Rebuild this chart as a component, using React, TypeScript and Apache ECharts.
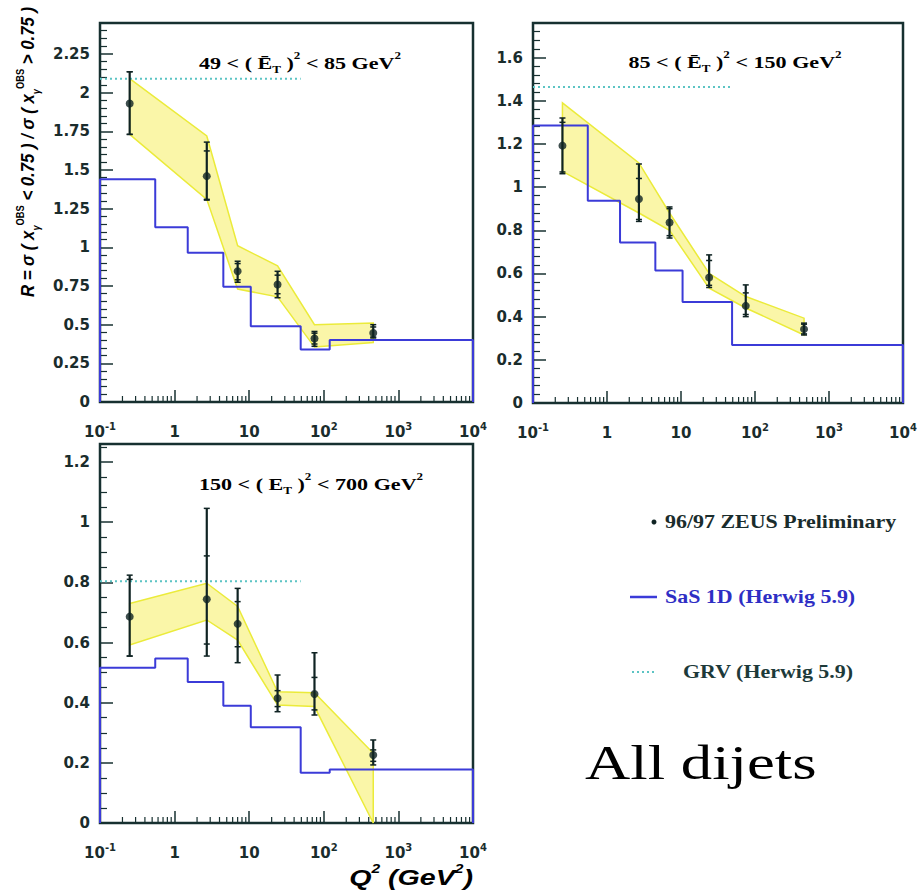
import React, { useEffect, useRef } from "react";
import * as echarts from "echarts";

// ---------- data ----------
const binEdges = [0.1, 0.55, 1.5, 4.5, 10.5, 49, 120, 10000];
const pointQ2 = [0.25, 2.7, 7, 24, 75, 460];
const grvEnd = 49;

// Panel 1: 49 < (E_T)^2 < 85 GeV^2
const p1Ratio = [1.93, 1.46, 0.845, 0.76, 0.41, 0.446];
const p1TotLo = [1.73, 1.305, 0.774, 0.674, 0.36, 0.414];
const p1TotHi = [2.135, 1.68, 0.91, 0.845, 0.456, 0.5];
const p1StatLo = [1.73, 1.31, 0.79, 0.7, 0.375, 0.42];
const p1StatHi = [2.135, 1.623, 0.895, 0.82, 0.445, 0.485];
const p1BandLo = [1.73, 1.31, 0.73, 0.68, 0.355, 0.385];
const p1BandHi = [2.09, 1.72, 1.01, 0.88, 0.5, 0.51];
const p1SaS = [1.44, 1.13, 0.965, 0.745, 0.49, 0.34, 0.4];
const p1Grv = 2.09;

// Panel 2: 85 < (E_T)^2 < 150 GeV^2
const p2Ratio = [1.192, 0.945, 0.836, 0.581, 0.45, 0.342];
const p2TotLo = [1.062, 0.841, 0.764, 0.535, 0.4, 0.315];
const p2TotHi = [1.32, 1.107, 0.908, 0.686, 0.547, 0.37];
const p2StatLo = [1.07, 0.85, 0.775, 0.545, 0.41, 0.32];
const p2StatHi = [1.3, 1.04, 0.9, 0.66, 0.51, 0.365];
const p2BandLo = [1.073, 0.88, 0.8, 0.532, 0.44, 0.315];
const p2BandHi = [1.39, 1.112, 0.88, 0.6, 0.493, 0.393];
const p2SaS = [1.285, 0.937, 0.743, 0.614, 0.468, 0.269, 0.269];
const p2Grv = 1.464;

// Panel 3: 150 < (E_T)^2 < 700 GeV^2
const p3Ratio = [0.686, 0.744, 0.662, 0.415, 0.429, 0.226];
const p3TotLo = [0.555, 0.555, 0.533, 0.37, 0.359, 0.193];
const p3TotHi = [0.824, 1.046, 0.78, 0.492, 0.566, 0.276];
const p3StatLo = [0.555, 0.595, 0.586, 0.387, 0.376, 0.205];
const p3StatHi = [0.81, 0.888, 0.736, 0.44, 0.484, 0.243];
const p3BandLo = [0.592, 0.675, 0.608, 0.392, 0.387, 0.0];
const p3BandHi = [0.73, 0.797, 0.72, 0.436, 0.433, 0.232];
const p3SaS = [0.516, 0.547, 0.469, 0.39, 0.318, 0.167, 0.178];
const p3Grv = 0.804;

const yMaxes = [2.45, 1.76, 1.26];
const yIntervals = [0.25, 0.2, 0.2];
const yMinorSplits = [5, 5, 4];

const panelTitles = [
  "{t|49 < ( }{t|Ē}{sub|T}{t| )}{sup|2}{t| < 85 GeV}{sup|2}",
  "{t|85 < ( }{t|Ē}{sub|T}{t| )}{sup|2}{t| < 150 GeV}{sup|2}",
  "{t|150 < ( E}{sub|T}{t| )}{sup|2}{t| < 700 GeV}{sup|2}",
];

const legendLabels = ["96/97 ZEUS Preliminary", "SaS 1D (Herwig 5.9)", "GRV (Herwig 5.9)"];

// ---------- styles ----------
const FRAME = "#173030";
const BLUE = "#3b3bd8";
const GRV_COLOR = "#5cc4c4";
const BAND_FILL = "rgba(246, 240, 110, 0.6)";
const BAND_EDGE = "#ebeb3a";
const POINT = "#0f2323";
const LABEL = "#1a2c2c";

const grids = [
  { left: 100, top: 23, width: 373, height: 379 },
  { left: 533, top: 23, width: 370, height: 380 },
  { left: 100, top: 444, width: 373, height: 379 },
];

const titlePos = [
  [300, 63],
  [735, 62],
  [311, 484],
];

const panels = [
  { ratio: p1Ratio, totLo: p1TotLo, totHi: p1TotHi, statLo: p1StatLo, statHi: p1StatHi, bandLo: p1BandLo, bandHi: p1BandHi, sas: p1SaS, grv: p1Grv },
  { ratio: p2Ratio, totLo: p2TotLo, totHi: p2TotHi, statLo: p2StatLo, statHi: p2StatHi, bandLo: p2BandLo, bandHi: p2BandHi, sas: p2SaS, grv: p2Grv },
  { ratio: p3Ratio, totLo: p3TotLo, totHi: p3TotHi, statLo: p3StatLo, statHi: p3StatHi, bandLo: p3BandLo, bandHi: p3BandHi, sas: p3SaS, grv: p3Grv },
];

function stepData(vals: number[]) {
  const d: number[][] = [[binEdges[0], 0]];
  vals.forEach((v, k) => {
    d.push([binEdges[k], v]);
    d.push([binEdges[k + 1], v]);
  });
  d.push([binEdges[binEdges.length - 1], 0]);
  return d;
}

// log-axis minor tick positions (axis decoration)
const minorTicks: number[] = [];
for (let e = -1; e < 4; e++) {
  for (let m = 2; m <= 9; m++) minorTicks.push(m * Math.pow(10, e));
}

const tickRich = {
  b: { fontFamily: "DejaVu Sans", fontWeight: "bold", fontSize: 15, color: LABEL, lineHeight: 22 },
  s: { fontFamily: "DejaVu Sans", fontWeight: "bold", fontSize: 10, color: LABEL, lineHeight: 10, verticalAlign: "top" },
};

function buildOption() {
  const xAxis: any[] = [];
  const yAxis: any[] = [];
  const series: any[] = [];
  const graphic: any[] = [];

  grids.forEach((g, i) => {
    xAxis.push({
      type: "log",
      logBase: 10,
      gridIndex: i,
      min: 0.1,
      max: 10000,
      splitNumber: 5,
      axisLine: { show: false },
      splitLine: { show: false },
      axisTick: { show: true, inside: true, length: 12, lineStyle: { color: FRAME, width: 1.5 } },
      axisLabel: {
        margin: 19,
        formatter: (v: number) => {
          const e = Math.round(Math.log10(v));
          if (e === 0) return "{b|1}";
          if (e === 1) return "{b|10}";
          return "{b|10}{s|" + e + "}";
        },
        rich: tickRich,
      },
    });
    yAxis.push({
      type: "value",
      gridIndex: i,
      min: 0,
      max: yMaxes[i],
      interval: yIntervals[i],
      axisLine: { show: false },
      splitLine: { show: false },
      axisTick: { show: true, inside: true, length: 13, lineStyle: { color: FRAME, width: 1.5 } },
      minorTick: { show: true, splitNumber: yMinorSplits[i], length: 7, lineStyle: { color: FRAME, width: 1.2 } },
      axisLabel: {
        showMaxLabel: false,
        margin: 10,
        fontFamily: "DejaVu Sans",
        fontWeight: "bold",
        fontSize: 15,
        color: LABEL,
        formatter: (v: number) => String(Math.round(v * 100) / 100),
      },
    });

    const p = panels[i];
    const n = pointQ2.length;

    // uncertainty band
    series.push({
      type: "custom",
      xAxisIndex: i,
      yAxisIndex: i,
      z: 1,
      silent: true,
      data: [[pointQ2[0], p.bandLo[0]]],
      renderItem: (_params: any, api: any) => {
        const pts: number[][] = [];
        for (let k = 0; k < n; k++) pts.push(api.coord([pointQ2[k], p.bandHi[k]]));
        for (let k = n - 1; k >= 0; k--) pts.push(api.coord([pointQ2[k], p.bandLo[k]]));
        return {
          type: "polygon",
          shape: { points: pts },
          style: { fill: BAND_FILL, stroke: BAND_EDGE, lineWidth: 1.5 },
        };
      },
    });

    // SaS 1D histogram
    series.push({
      type: "line",
      xAxisIndex: i,
      yAxisIndex: i,
      z: 3,
      data: stepData(p.sas),
      showSymbol: false,
      lineStyle: { color: BLUE, width: 2 },
    });

    // GRV dotted line
    series.push({
      type: "line",
      xAxisIndex: i,
      yAxisIndex: i,
      z: 3,
      data: [
        [binEdges[0], p.grv],
        [grvEnd, p.grv],
      ],
      showSymbol: false,
      lineStyle: { color: GRV_COLOR, width: 2, type: [2, 3] },
    });

    // error bars
    series.push({
      type: "custom",
      xAxisIndex: i,
      yAxisIndex: i,
      z: 5,
      data: pointQ2.map((q, k) => [q, p.ratio[k], p.totLo[k], p.totHi[k], p.statLo[k], p.statHi[k]]),
      renderItem: (_params: any, api: any) => {
        const x = api.value(0);
        const lo = api.coord([x, api.value(2)]);
        const hi = api.coord([x, api.value(3)]);
        const slo = api.coord([x, api.value(4)]);
        const shi = api.coord([x, api.value(5)]);
        const st = { stroke: POINT, lineWidth: 2.2 };
        const cap = (pt: number[], w: number) => ({
          type: "line",
          shape: { x1: pt[0] - w, y1: pt[1], x2: pt[0] + w, y2: pt[1] },
          style: { stroke: POINT, lineWidth: 1.5 },
        });
        return {
          type: "group",
          children: [
            { type: "line", shape: { x1: lo[0], y1: lo[1], x2: hi[0], y2: hi[1] }, style: st },
            cap(lo, 3),
            cap(hi, 3),
            cap(slo, 3),
            cap(shi, 3),
          ],
        };
      },
    });

    // data points
    series.push({
      type: "scatter",
      xAxisIndex: i,
      yAxisIndex: i,
      z: 6,
      symbol: "circle",
      symbolSize: 8,
      itemStyle: { color: POINT },
      data: pointQ2.map((q, k) => [q, p.ratio[k]]),
    });

    // log minor ticks on x axis
    series.push({
      type: "custom",
      xAxisIndex: i,
      yAxisIndex: i,
      z: 4,
      silent: true,
      data: minorTicks.map((q) => [q, 0]),
      renderItem: (_params: any, api: any) => {
        const pt = api.coord([api.value(0), 0]);
        return {
          type: "line",
          shape: { x1: pt[0], y1: pt[1], x2: pt[0], y2: pt[1] - 6 },
          style: { stroke: FRAME, lineWidth: 1.2 },
        };
      },
    });

    graphic.push({
      type: "text",
      x: titlePos[i][0],
      y: titlePos[i][1],
      scaleX: 1.3,
      style: {
        text: panelTitles[i],
        align: "center",
        verticalAlign: "middle",
        rich: {
          t: { fontFamily: "Liberation Serif", fontWeight: "bold", fontSize: 17, color: LABEL, lineHeight: 24 },
          sub: { fontFamily: "Liberation Serif", fontWeight: "bold", fontSize: 10, color: LABEL, lineHeight: 10, verticalAlign: "bottom" },
          sup: { fontFamily: "Liberation Serif", fontWeight: "bold", fontSize: 10, color: LABEL, lineHeight: 10, verticalAlign: "top" },
        },
      },
    });
  });

  // y-axis title
  graphic.push({
    type: "text",
    x: 28,
    y: 152,
    rotation: Math.PI / 2,
    scaleX: 0.93,
    style: {
      text: "{m|R = σ ( x}{sub|γ}{sup|OBS}{m| < 0.75 ) / σ ( x}{sub|γ}{sup|OBS}{m| > 0.75 )}",
      align: "center",
      verticalAlign: "middle",
      rich: {
        m: { fontFamily: "Liberation Sans", fontStyle: "italic", fontWeight: "bold", fontSize: 18, color: LABEL, lineHeight: 26 },
        sub: { fontFamily: "Liberation Sans", fontStyle: "italic", fontWeight: "bold", fontSize: 10, color: LABEL, lineHeight: 10, verticalAlign: "bottom" },
        sup: { fontFamily: "Liberation Sans", fontWeight: "bold", fontSize: 10, color: LABEL, lineHeight: 10, verticalAlign: "top" },
      },
    },
  });

  // x-axis title
  graphic.push({
    type: "text",
    x: 473,
    y: 877,
    scaleX: 1.3,
    style: {
      text: "{m|Q}{s|2}{m| (GeV}{s|2}{m|)}",
      align: "right",
      verticalAlign: "middle",
      rich: {
        m: { fontFamily: "Liberation Sans", fontStyle: "italic", fontWeight: "bold", fontSize: 22, color: LABEL, lineHeight: 28 },
        s: { fontFamily: "Liberation Sans", fontStyle: "italic", fontWeight: "bold", fontSize: 12, color: LABEL, lineHeight: 12, verticalAlign: "top" },
      },
    },
  });

  // legend
  const legFont = { fontFamily: "Liberation Serif", fontWeight: "bold", fontSize: 18 };
  graphic.push({ type: "circle", shape: { cx: 654, cy: 522, r: 2.5 }, style: { fill: POINT } });
  graphic.push({
    type: "text",
    x: 665,
    y: 522,
    scaleX: 1.22,
    style: { text: legendLabels[0], ...legFont, fill: LABEL, verticalAlign: "middle" },
  });
  graphic.push({ type: "line", shape: { x1: 630, y1: 597, x2: 657, y2: 597 }, style: { stroke: BLUE, lineWidth: 2.5 } });
  graphic.push({
    type: "text",
    x: 665,
    y: 597,
    scaleX: 1.22,
    style: { text: legendLabels[1], ...legFont, fill: "#2e2ec4", verticalAlign: "middle" },
  });
  graphic.push({
    type: "line",
    shape: { x1: 632, y1: 672, x2: 657, y2: 672 },
    style: { stroke: GRV_COLOR, lineWidth: 2, lineDash: [2, 3] },
  });
  graphic.push({
    type: "text",
    x: 683,
    y: 672,
    scaleX: 1.22,
    style: { text: legendLabels[2], ...legFont, fill: "#1d3a3a", verticalAlign: "middle" },
  });

  // All dijets
  graphic.push({
    type: "text",
    x: 585,
    y: 762,
    scaleX: 1.28,
    style: {
      text: "All dijets",
      fontFamily: "Liberation Serif",
      fontSize: 49,
      fill: "#000",
      verticalAlign: "middle",
    },
  });

  return {
    animation: false,
    backgroundColor: "#ffffff",
    grid: grids.map((g) => ({ ...g, show: true, borderColor: FRAME, borderWidth: 2.5, backgroundColor: "transparent", containLabel: false })),
    xAxis,
    yAxis,
    series,
    graphic,
  };
}

export default function App() {
  const ref = useRef<HTMLDivElement>(null);
  useEffect(() => {
    if (!ref.current) return;
    const chart = echarts.init(ref.current, undefined, { renderer: "svg" });
    chart.setOption(buildOption() as any);
    return () => chart.dispose();
  }, []);
  return (
    <div
      ref={ref}
      style={{ position: "fixed", left: 0, top: 0, width: 922, height: 894, background: "#fff" }}
    />
  );
}
